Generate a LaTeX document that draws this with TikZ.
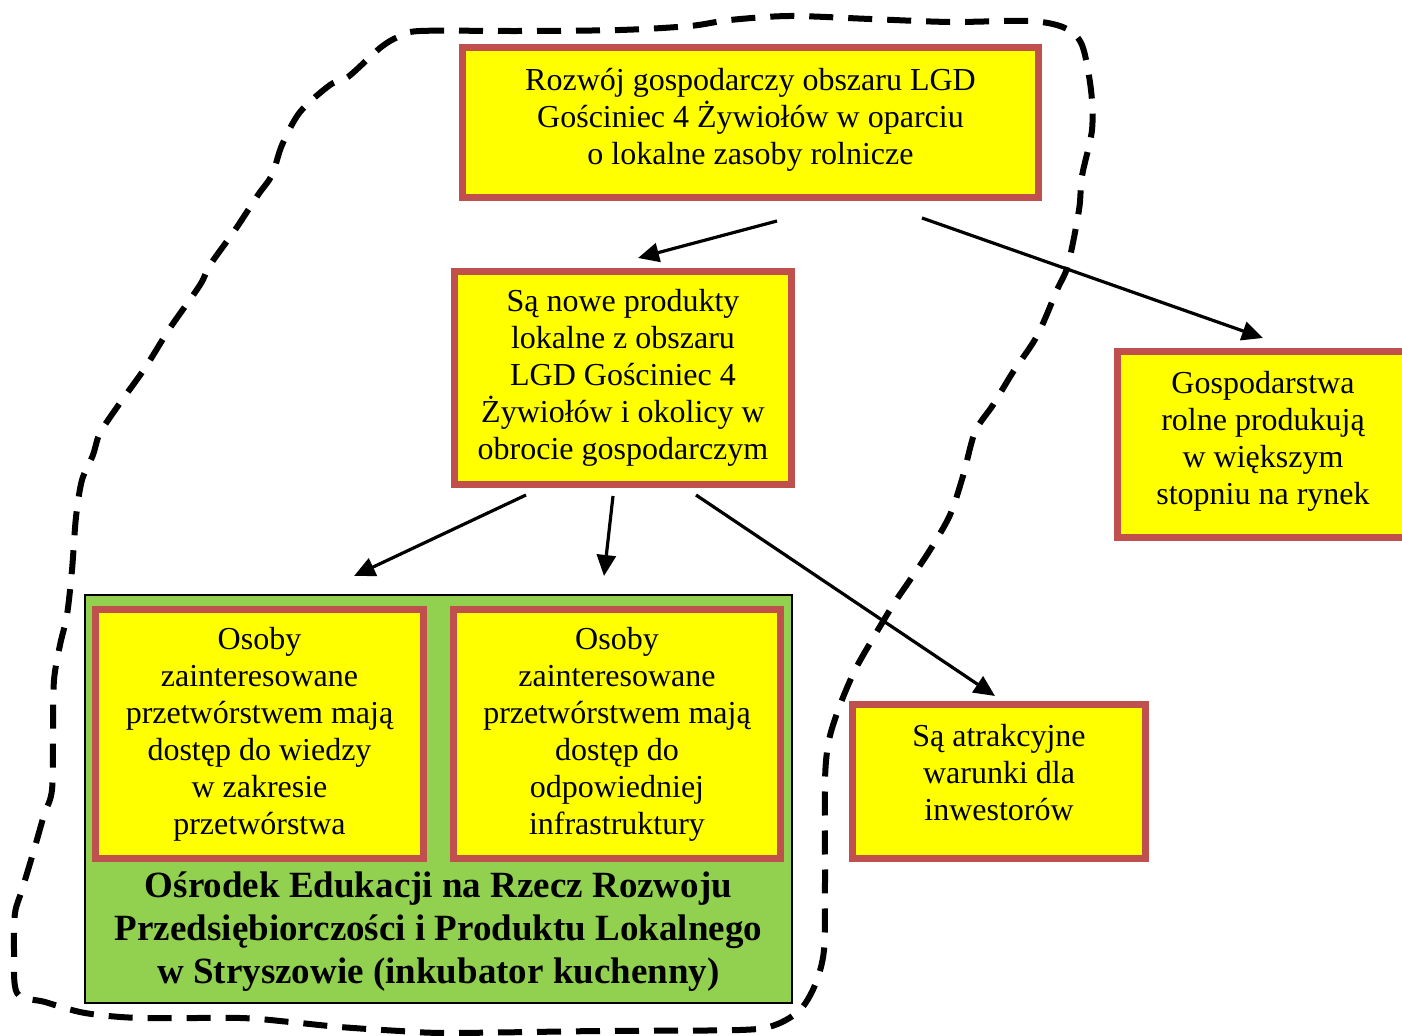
\documentclass[tikz,border=0pt]{standalone}
\usepackage{fontspec}
\setmainfont{Liberation Serif}
\usetikzlibrary{arrows.meta}
\definecolor{boxred}{HTML}{C0504D}
\definecolor{boxyellow}{HTML}{FFFF00}
\definecolor{boxgreen}{HTML}{92D050}
\tikzset
{
    goalbox/.style   = {rectangle, draw=boxred, fill=boxyellow, line width=3.5pt, align=center, inner sep=0pt, font=\fontsize{16}{18.5}\selectfont},
    centrebox/.style = {rectangle, draw=black, fill=boxgreen, line width=1pt, inner sep=0pt},
    centretxt/.style = {align=center, inner sep=0pt, font=\fontsize{18.5}{21.5}\selectfont\bfseries},
    link/.style      = {line width=1.6pt, -{Triangle[length=10.5pt,width=9.5pt]}},
    area/.style      = {line width=3pt, dash pattern=on 12pt off 7.5pt}
}

\begin{document}
\begin{tikzpicture}[x=0.5pt, y=-0.5pt]
\useasboundingbox (0,0) rectangle (1402,1036);
% obszar LGD
\draw [area] plot [smooth cycle, tension=0.5] coordinates {
  (398,37) (420,31) (520,31) (620,30) (690,26) (730,20) (790,16) (870,19) (950,22)
  (1030,21) (1065,28) (1082,45) (1091,90) (1092,130) (1082,176) (1079,210) (1068,265)
  (1057,290) (1037,336) (1013,372) (993,405) (975,432) (963,476) (950,515) (930,550)
  (910,580) (893,605) (872,640) (855,670) (840,705) (829,740) (825,780) (825,880)
  (824,950) (815,985) (800,1010) (775,1025) (740,1030) (600,1031) (450,1033) (400,1031)
  (340,1027) (290,1022) (240,1018) (140,1018) (85,1013) (45,1002) (17,993) (14,950)
  (15,913) (22,890) (34,850) (44,815) (52,790) (53,730) (54,680) (60,645) (67,615)
  (72,570) (76,517) (82,480) (93,455) (100,433) (120,403) (145,368) (170,328) (200,285)
  (210,265) (235,230) (258,195) (272,175) (282,145) (300,112) (330,85) (348,77) (380,48)};
\node [goalbox, minimum width=288pt, minimum height=75pt, text depth=6.5pt] at (750.5,122.5) (rozwoj) {Rozwój gospodarczy obszaru LGD\\Gościniec 4 Żywiołów w oparciu\\o lokalne zasoby rolnicze};
\node [goalbox, minimum width=168.5pt, minimum height=106.5pt] at (623,378) (produkty) {Są nowe produkty\\lokalne z obszaru\\LGD Gościniec 4\\Żywiołów i okolicy w\\obrocie gospodarczym};
\node [goalbox, minimum width=145.5pt, minimum height=93pt, text depth=6.5pt] at (1263,444.5) (rynek) {Gospodarstwa\\rolne produkują\\w większym\\stopniu na rynek};
\node [goalbox, minimum width=146.5pt, minimum height=77pt, text depth=9pt] at (999,781.5) (inwestorzy) {Są atrakcyjne\\warunki dla\\inwestorów};
\node [centrebox, minimum width=353.5pt, minimum height=204pt] at (438.5,799) (osrodek) {};
\node [goalbox, minimum width=164pt, minimum height=124.5pt] at (259.5,734) (wiedza) {Osoby\\zainteresowane\\przetwórstwem mają\\dostęp do wiedzy\\w zakresie\\przetwórstwa};
\node [goalbox, minimum width=163.5pt, minimum height=124.5pt] at (617,734) (infra) {Osoby\\zainteresowane\\przetwórstwem mają\\dostęp do\\odpowiedniej\\infrastruktury};
\node [centretxt] at (438.5,932) (osrodekopis) {Ośrodek Edukacji na Rzecz Rozwoju\\Przedsiębiorczości i Produktu Lokalnego\\w Stryszowie (inkubator kuchenny)};
\draw [link] ([shift={(26.5,20)}]rozwoj.south) -- ([shift={(15,-10)}]produkty.north);
\draw [link] ([shift={(171.5,17)}]rozwoj.south) -- ([shift={(0,-10)}]rynek.north);
\draw [link] ([shift={(-97,7)}]produkty.south) -- ([shift={(-84.5,-18)}]osrodek.north);
\draw [link] ([shift={(-10,8)}]produkty.south) -- ([shift={(165.5,-18)}]osrodek.north);
\draw [link] ([shift={(73,7)}]produkty.south) -- ([shift={(-4,-5)}]inwestorzy.north);
\end{tikzpicture}
\end{document}
